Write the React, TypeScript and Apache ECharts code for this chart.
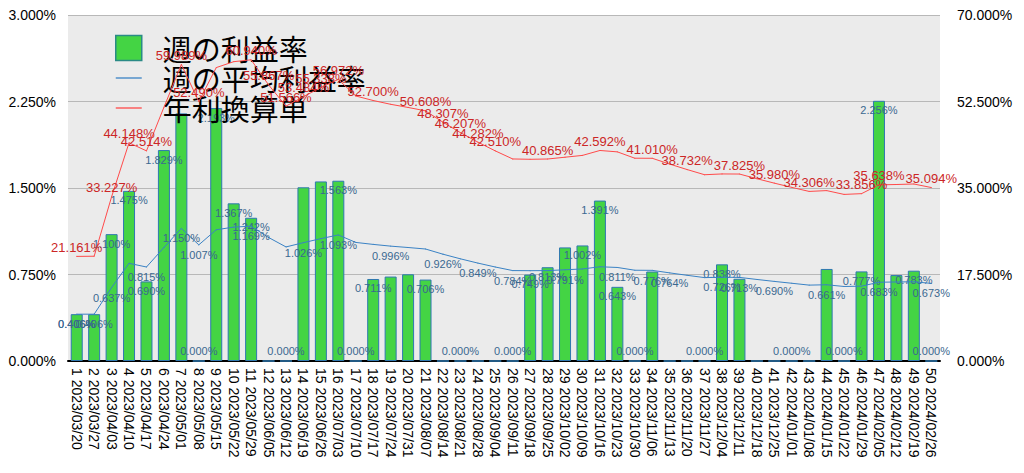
import React, { useEffect, useRef } from "react";
import * as echarts from "echarts";

const categories = [
  "1 2023/03/20", "2 2023/03/27", "3 2023/04/03", "4 2023/04/10", "5 2023/04/17",
  "6 2023/04/24", "7 2023/05/01", "8 2023/05/08", "9 2023/05/15", "10 2023/05/22",
  "11 2023/05/29", "12 2023/06/05", "13 2023/06/12", "14 2023/06/19", "15 2023/06/26",
  "16 2023/07/03", "17 2023/07/10", "18 2023/07/17", "19 2023/07/24", "20 2023/07/31",
  "21 2023/08/07", "22 2023/08/14", "23 2023/08/21", "24 2023/08/28", "25 2023/09/04",
  "26 2023/09/11", "27 2023/09/18", "28 2023/09/25", "29 2023/10/02", "30 2023/10/09",
  "31 2023/10/16", "32 2023/10/23", "33 2023/10/30", "34 2023/11/06", "35 2023/11/13",
  "36 2023/11/20", "37 2023/11/27", "38 2023/12/04", "39 2023/12/11", "40 2023/12/18",
  "41 2023/12/25", "42 2024/01/01", "43 2024/01/08", "44 2024/01/15", "45 2024/01/22",
  "46 2024/01/29", "47 2024/02/05", "48 2024/02/12", "49 2024/02/19", "50 2024/02/26",
];

// 週の利益率 (%)
const weeklyRate = [
  0.406, 0.406, 1.1, 1.475, 0.69, 1.829, 2.147, 0, 2.193, 1.367,
  1.242, 0, 0, 1.506, 1.557, 1.563, 0, 0.711, 0.732, 0.752,
  0.706, 0, 0, 0, 0, 0, 0.749, 0.813, 0.985, 1.002,
  1.391, 0.643, 0, 0.776, 0, 0, 0, 0.838, 0.713, 0,
  0, 0, 0, 0.798, 0, 0.777, 2.256, 0.745, 0.783, 0,
];

// 週の平均利益率 (%)
const avgRate = [
  0.406, 0.406, 0.637, 0.847, 0.815, 0.984, 1.15, 1.007, 1.138, 1.161,
  1.169, 1.071, 0.989, 1.026, 1.061, 1.093, 1.028, 1.011, 0.996, 0.984,
  0.971, 0.926, 0.886, 0.849, 0.815, 0.784, 0.783, 0.784, 0.791, 0.798,
  0.817, 0.811, 0.787, 0.786, 0.764, 0.743, 0.723, 0.726, 0.725, 0.707,
  0.69, 0.674, 0.658, 0.661, 0.646, 0.649, 0.683, 0.685, 0.687, 0.673,
];

// 年利換算単 (%)
const annualRate = [
  21.161, 21.196, 33.227, 44.148, 42.514, 51.324, 59.989, 52.49, 59.362, 60.554,
  60.94, 55.867, 51.566, 53.484, 55.338, 56.972, 53.619, 52.7, 51.935, 51.298,
  50.608, 48.307, 46.207, 44.282, 42.51, 40.876, 40.809, 40.865, 41.229, 41.595,
  42.592, 42.31, 41.027, 41.01, 39.839, 38.732, 37.686, 37.843, 37.825, 36.88,
  35.98, 35.124, 34.306, 34.474, 33.701, 33.856, 35.638, 35.705, 35.81, 35.094,
];

// weeks whose value labels are visible in the reference
const barLabelWeeks = [1, 2, 3, 4, 5, 6, 8, 9, 10, 11, 13, 16, 17, 18, 21, 23, 26, 27, 28, 30, 31, 32, 33, 34, 37, 38, 39, 42, 45, 46, 47, 49, 50];
const avgLabelWeeks = [1, 3, 5, 7, 8, 11, 14, 16, 19, 22, 24, 26, 29, 32, 35, 38, 41, 44, 47, 50];
const annualLabelWeeks = [1, 3, 4, 5, 7, 8, 11, 12, 13, 14, 15, 16, 18, 21, 22, 23, 24, 25, 28, 31, 34, 36, 39, 41, 43, 46, 47, 50];

const leftAxis = { min: 0, max: 3, interval: 0.75 };
const rightAxis = { min: 0, max: 70, interval: 17.5 };

const seriesNames = ["週の利益率", "週の平均利益率", "年利換算単"];

const pct = (v: number) => v.toFixed(3) + "%";

export default function App() {
  const ref = useRef<HTMLDivElement>(null);
  useEffect(() => {
    if (!ref.current) return;
    const chart = echarts.init(ref.current, undefined, { renderer: "svg" });
    const font = "'Liberation Sans', Arial, sans-serif";
    chart.setOption({
      animation: false,
      textStyle: { fontFamily: font },
      legend: {
        orient: "vertical",
        left: 110,
        top: 28,
        itemWidth: 26,
        itemHeight: 25,
        itemGap: 0,
        textStyle: {
          fontFamily: "'Noto Sans CJK JP', sans-serif",
          fontSize: 29,
          lineHeight: 30,
          color: "#000",
          padding: [0, 0, 0, 16],
        },
        data: [
          { name: seriesNames[0], icon: "rect", itemStyle: { borderColor: "#2a8a86", borderWidth: 1.5 } },
          { name: seriesNames[1], icon: "path://M0 0H26V1.3H0Z" },
          { name: seriesNames[2], icon: "path://M0 0H26V1.3H0Z" },
        ],
      },
      grid: {
        left: 68,
        right: 84,
        top: 15,
        bottom: 112,
        show: true,
        backgroundColor: "#ebebeb",
        borderWidth: 0,
      },
      xAxis: {
        type: "category",
        data: categories,
        axisLine: { lineStyle: { color: "#000", width: 2 } },
        axisTick: { show: false },
        axisLabel: {
          rotate: -90,
          interval: 0,
          fontSize: 14,
          color: "#000",
          margin: 7,
          fontFamily: font,
        },
      },
      yAxis: [
        {
          type: "value",
          min: leftAxis.min,
          max: leftAxis.max,
          interval: leftAxis.interval,
          axisLine: { show: false },
          axisTick: { show: false },
          axisLabel: { formatter: pct, fontSize: 14, color: "#000", margin: 12, fontFamily: font },
          splitLine: { lineStyle: { color: "#b8b8b8", width: 1 } },
        },
        {
          type: "value",
          position: "right",
          min: rightAxis.min,
          max: rightAxis.max,
          interval: rightAxis.interval,
          axisLine: { show: false },
          axisTick: { show: false },
          axisLabel: { formatter: pct, fontSize: 14, color: "#000", margin: 17, fontFamily: font },
          splitLine: { show: false },
        },
      ],
      series: [
        {
          name: seriesNames[0],
          type: "bar",
          yAxisIndex: 0,
          barWidth: 12,
          itemStyle: { color: "#44d444", borderColor: "#2f78b0", borderWidth: 1 },
          label: {
            show: true,
            position: "insideTop",
            distance: 4,
            fontSize: 11,
            color: "#3a6890",
            fontFamily: font,
            formatter: (p: any) => pct(p.value),
          },
          data: weeklyRate.map((v, i) => ({
            value: v,
            label: {
              show: barLabelWeeks.includes(i + 1),
              position: v === 0 ? "top" : "insideTop",
            },
          })),
          z: 2,
        },
        {
          name: seriesNames[1],
          type: "line",
          yAxisIndex: 0,
          symbol: "circle",
          symbolSize: 1,
          itemStyle: { color: "#3a82c4" },
          lineStyle: { color: "#3a82c4", width: 1 },
          label: {
            show: true,
            position: "bottom",
            distance: 4,
            fontSize: 11,
            color: "#3a6890",
            fontFamily: font,
            formatter: (p: any) => pct(p.value),
          },
          data: avgRate.map((v, i) => ({
            value: v,
            label: { show: avgLabelWeeks.includes(i + 1) },
          })),
          z: 3,
        },
        {
          name: seriesNames[2],
          type: "line",
          yAxisIndex: 1,
          symbol: "circle",
          symbolSize: 1,
          itemStyle: { color: "#ff4a4a" },
          lineStyle: { color: "#ff4a4a", width: 1 },
          label: {
            show: true,
            position: "top",
            distance: 2,
            fontSize: 13,
            color: "#cc2626",
            fontFamily: font,
            formatter: (p: any) => pct(p.value),
          },
          data: annualRate.map((v, i) => ({
            value: v,
            label: { show: annualLabelWeeks.includes(i + 1) },
          })),
          z: 4,
        },
      ],
    });
    return () => chart.dispose();
  }, []);
  return (
    <div
      ref={ref}
      style={{ position: "absolute", left: 0, top: 0, width: 1024, height: 473 }}
    />
  );
}
